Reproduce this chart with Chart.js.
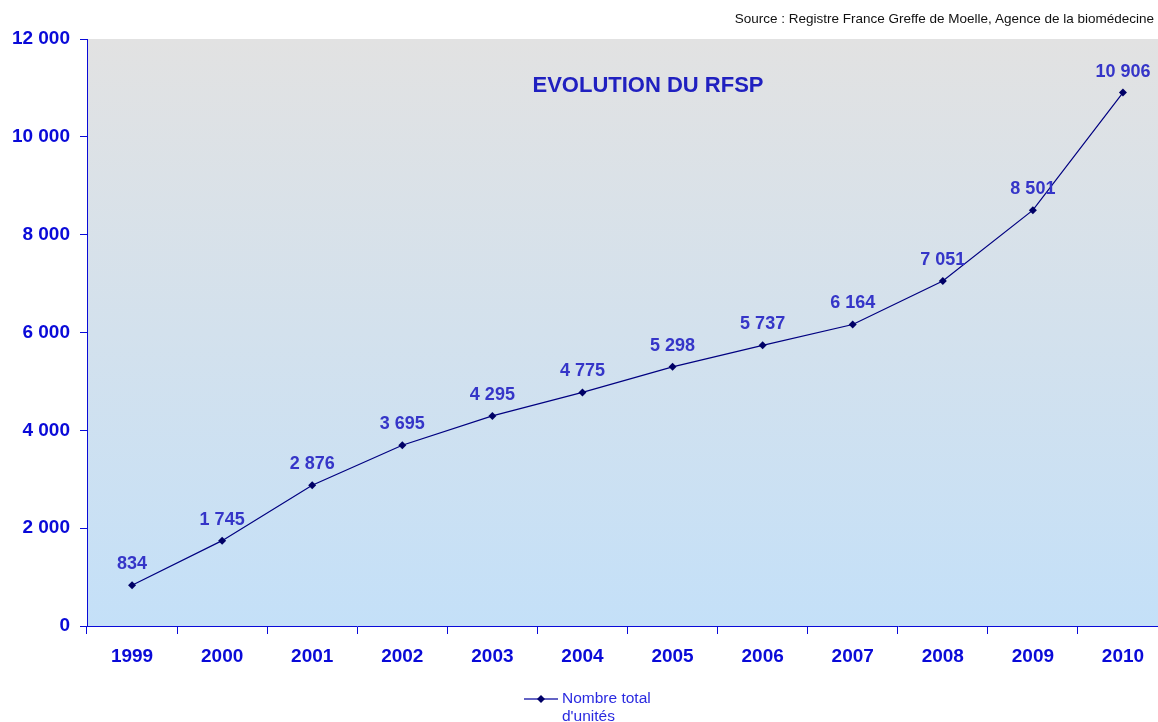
<!DOCTYPE html>
<html>
<head>
<meta charset="utf-8">
<script src="https://cdn.jsdelivr.net/npm/chart.js@4/dist/chart.umd.min.js"></script>
<style>
  html, body { margin: 0; padding: 0; background: #fff; overflow: hidden; }
  #wrap { position: relative; width: 1172px; height: 722px; }
  #source {
    position: absolute; top: 11px; right: 4px;
    font: 13.5px "Liberation Sans", Arial, sans-serif; color: #111;
  }
</style>
</head>
<body>
<div id="wrap">
  <canvas id="chart" width="1172" height="722"></canvas>
</div>
<div id="source">Source : Registre France Greffe de Moelle, Agence de la biomédecine</div>
<script>
// données
const years = ['1999', '2000', '2001', '2002', '2003', '2004', '2005', '2006', '2007', '2008', '2009', '2010'];
const totals = [834, 1745, 2876, 3695, 4295, 4775, 5298, 5737, 6164, 7051, 8501, 10906];
const yTicks = [0, 2000, 4000, 6000, 8000, 10000, 12000];
const seriesLabel = ['Nombre total', "d'unités"];
const chartTitle = 'EVOLUTION DU RFSP';

const axisBlue = '#0a0ad8';
const labelBlue = '#3535c8';
const lineNavy = '#000080';

// espace comme séparateur de milliers
const fmt = v => String(v).replace(/\B(?=(\d{3})+(?!\d))/g, ' ');

// fond dégradé de la zone du graphique
const plotBackground = {
    id: 'plotBackground',
    beforeDraw(chart) {
        const { ctx, chartArea: a } = chart;
        const g = ctx.createLinearGradient(0, a.top, 0, a.bottom);
        g.addColorStop(0, '#e2e2e2');
        g.addColorStop(1, '#c4e0f8');
        ctx.save();
        ctx.fillStyle = g;
        ctx.fillRect(a.left, a.top, a.right - a.left, a.bottom - a.top);
        ctx.restore();
    }
};

// étiquettes des valeurs, titre et légende
const extras = {
    id: 'extras',
    afterDatasetsDraw(chart) {
        const { ctx } = chart;
        const meta = chart.getDatasetMeta(0);
        ctx.save();
        ctx.font = 'bold 18px "Liberation Sans", Arial, sans-serif';
        ctx.fillStyle = labelBlue;
        ctx.textAlign = 'center';
        ctx.textBaseline = 'alphabetic';
        meta.data.forEach((pt, i) => {
            ctx.fillText(fmt(totals[i]), pt.x, pt.y - 16);
        });

        ctx.font = 'bold 22px "Liberation Sans", Arial, sans-serif';
        ctx.fillStyle = '#2020c0';
        ctx.fillText(chartTitle, 648, 92);

        // légende
        const lx = 524, ly = 699;
        ctx.strokeStyle = '#3030b0';
        ctx.lineWidth = 1.5;
        ctx.beginPath();
        ctx.moveTo(lx, ly);
        ctx.lineTo(lx + 34, ly);
        ctx.stroke();
        ctx.fillStyle = '#000066';
        ctx.beginPath();
        ctx.moveTo(lx + 17, ly - 4);
        ctx.lineTo(lx + 21, ly);
        ctx.lineTo(lx + 17, ly + 4);
        ctx.lineTo(lx + 13, ly);
        ctx.closePath();
        ctx.fill();
        ctx.font = '15.5px "Liberation Sans", Arial, sans-serif';
        ctx.fillStyle = '#2a2ae0';
        ctx.textAlign = 'left';
        ctx.textBaseline = 'middle';
        ctx.fillText(seriesLabel[0], lx + 38, ly);
        ctx.fillText(seriesLabel[1], lx + 38, ly + 18);
        ctx.restore();
    }
};

const ctx = document.getElementById('chart').getContext('2d');
const chart = new Chart(ctx, {
    type: 'line',
    data: {
        labels: years,
        datasets: [{
            label: seriesLabel.join(' '),
            data: totals,
            borderColor: lineNavy,
            borderWidth: 1.2,
            tension: 0,
            pointStyle: 'rectRot',
            pointRadius: 4,
            pointBackgroundColor: '#000066',
            pointBorderColor: '#000066',
            pointBorderWidth: 0
        }]
    },
    options: {
        responsive: false,
        animation: false,
        layout: { padding: { top: 39, right: 0, left: 0, bottom: 0 } },
        plugins: {
            legend: { display: false },
            tooltip: { enabled: false }
        },
        scales: {
            x: {
                offset: true,
                grid: {
                    offset: true,
                    drawOnChartArea: false,
                    drawTicks: true,
                    tickLength: 8,
                    color: axisBlue
                },
                border: { color: axisBlue, width: 1 },
                ticks: {
                    color: axisBlue,
                    padding: 11,
                    font: { family: '"Liberation Sans", Arial, sans-serif', size: 19, weight: 'bold' }
                },
                afterFit(scale) { scale.height = 96; }
            },
            y: {
                min: 0,
                max: 12000,
                afterBuildTicks(scale) { scale.ticks = yTicks.map(v => ({ value: v })); },
                grid: {
                    drawOnChartArea: false,
                    drawTicks: true,
                    tickLength: 7,
                    color: axisBlue
                },
                border: { color: axisBlue, width: 1 },
                ticks: {
                    color: axisBlue,
                    padding: 10,
                    callback: v => fmt(v),
                    font: { family: '"Liberation Sans", Arial, sans-serif', size: 19, weight: 'bold' }
                },
                afterFit(scale) { scale.width = 87; }
            }
        }
    },
    plugins: [plotBackground, extras]
});
</script>
</body>
</html>
